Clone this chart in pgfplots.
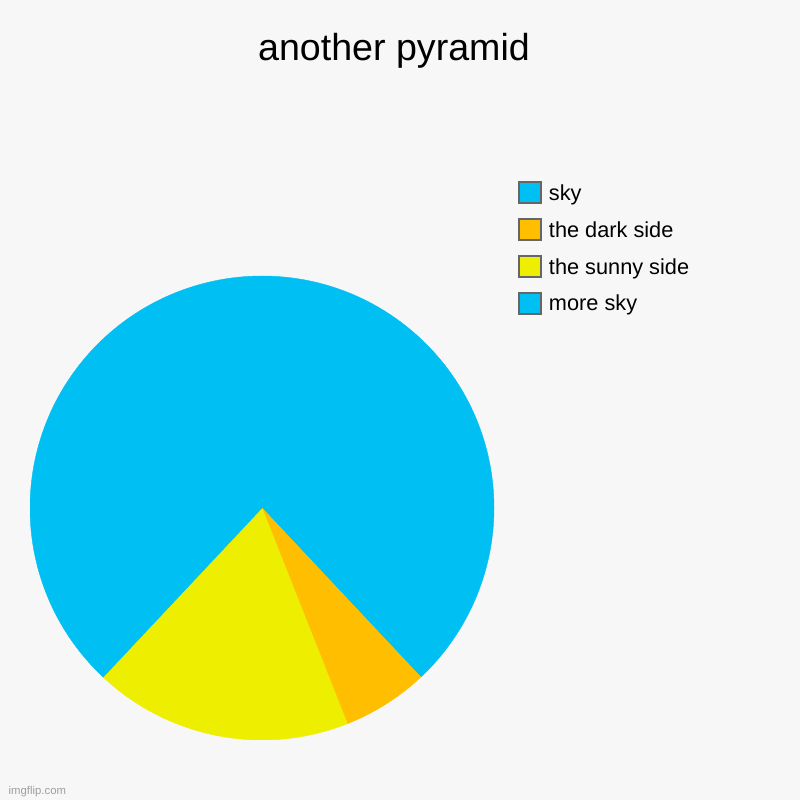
\documentclass[border=0pt]{standalone}
\usepackage{fontspec}
\setmainfont{Liberation Sans}
\usepackage{pgfplots}
\usepackage{pgfplotstable}
\pgfplotsset{compat=1.18}

\definecolor{bg}{HTML}{F7F7F7}
\definecolor{skyblue}{RGB}{0,191,243}
\definecolor{darkorange}{RGB}{255,191,0}
\definecolor{sunnyyellow}{RGB}{238,238,0}
\definecolor{boxgray}{HTML}{666666}

% slices clockwise from 12 o'clock
\pgfplotstableread{
label value color
sky 38 skyblue
dark 6 darkorange
sunny 18 sunnyyellow
more 38 skyblue
}\piedata

\pgfplotsset{piebox/.style={legend image code/.code={
  \draw[fill=#1, draw=boxgray, line width=1.5pt] (0.75pt,-7.875pt) rectangle (17.25pt,7.875pt);}}}

\begin{document}
\begin{tikzpicture}[x=1pt,y=1pt]
\fill[bg] (0,0) rectangle (600,600);
\useasboundingbox (0,0) rectangle (600,600);
\node[anchor=base, font=\fontsize{28.2}{34}\selectfont] at (295.5,554.5) {another pyramid};
\node[anchor=base west, text=black!38, font=\fontsize{8.5}{10}\selectfont] at (3,4.5) {imgflip.com};
\begin{axis}[
  at={(196.5pt,219pt)}, anchor=center,
  width=348pt, height=348pt, scale only axis,
  hide axis, xmin=-1, xmax=1, ymin=-1, ymax=1,
  legend cell align=left,
  legend style={at={(1.0517,1.2047)}, anchor=north west, draw=none, fill=none,
    inner sep=0pt, outer sep=0pt, row sep=10.4pt, column sep=5.25pt,
    font=\fontsize{16.3}{19}\selectfont,
    nodes={inner sep=0pt, text depth=0pt}, cells={anchor=west}},
]
\addlegendimage{piebox=skyblue}\addlegendentry{sky}
\addlegendimage{piebox=darkorange}\addlegendentry{the dark side}
\addlegendimage{piebox=sunnyyellow}\addlegendentry{the sunny side}
\addlegendimage{piebox=skyblue}\addlegendentry{more sky}

\pgfplotstablegetrowsof{\piedata}
\pgfmathtruncatemacro\lastrow{\pgfplotsretval-1}
\def\angstart{90}
\pgfplotsforeachungrouped \i in {0,...,\lastrow}{
  \pgfplotstablegetelem{\i}{value}\of\piedata \let\val\pgfplotsretval
  \pgfplotstablegetelem{\i}{color}\of\piedata \let\col\pgfplotsretval
  \pgfmathsetmacro\angend{\angstart-3.6*\val}
  \pgfmathsetmacro\xs{cos(\angstart)}
  \pgfmathsetmacro\ys{sin(\angstart)}
  \edef\cmd{\noexpand\fill[\col, draw=\col, line width=0.3pt] (axis cs:0,0) -- (axis cs:\xs,\ys)
    arc[start angle=\angstart, end angle=\angend, radius=174pt] -- cycle;}
  \cmd
  \let\angstart\angend
}
\end{axis}
\end{tikzpicture}
\end{document}
